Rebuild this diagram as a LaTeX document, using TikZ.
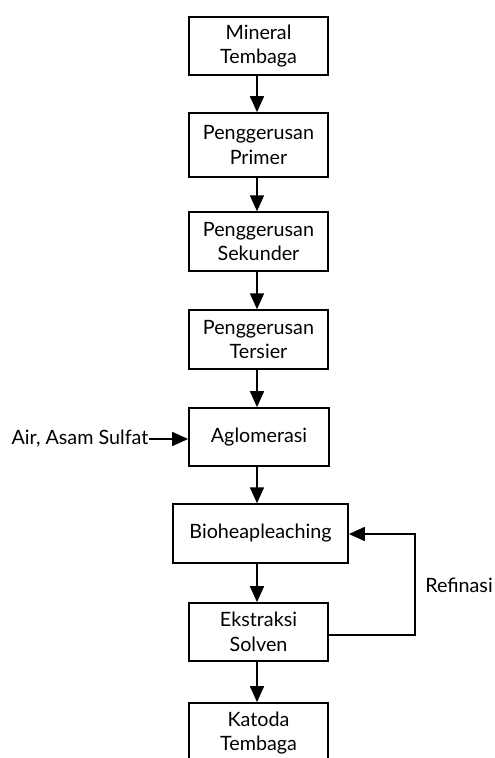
\documentclass[tikz,border=0pt]{standalone}
\usepackage{fontspec}
\setmainfont{Lato}
\usetikzlibrary{arrows.meta}
\begin{document}
\begin{tikzpicture}[x=0.75pt,y=-0.75pt,
  box/.style={draw,line width=1.3pt,minimum width=104.25pt,minimum height=44pt,align=center,inner sep=0pt,font=\fontsize{14.8}{18.6}\selectfont},
  arr/.style={line width=1.3pt,-{Triangle[length=12pt,width=10.5pt]}},
  lbl/.style={font=\fontsize{14.8}{18.6}\selectfont,inner sep=0pt}]
\useasboundingbox (0,0) rectangle (494,758);
\node[box] (m) at (258.5,46) {Mineral\\Tembaga};
\node[box,minimum height=48pt] (p) at (258.5,145) {Penggerusan\\Primer};
\node[box] (s) at (258.5,241.5) {Penggerusan\\Sekunder};
\node[box] (t) at (258.5,339.5) {Penggerusan\\Tersier};
\node[box,minimum width=105pt,minimum height=43.5pt] (a) at (259,437) {Aglomerasi};
\node[box,minimum width=131.25pt] (b) at (260.5,533.5) {Bioheapleaching};
\node[box,minimum height=43.5pt] (e) at (258.5,632) {Ekstraksi\\Solven};
\node[box,minimum height=45pt] (k) at (258.5,733) {Katoda\\Tembaga};
\node[lbl] (air) at (80,439) {Air, Asam Sulfat};
\node[lbl] (ref) at (459,585) {Refinasi};
\coordinate (c1) at (415,635);
\coordinate (c2) at (415,534);
\draw[arr] (m.south -| 257,0) -- (p.north -| 257,0);
\draw[arr] (p.south -| 257,0) -- (s.north -| 257,0);
\draw[arr] (s.south -| 257,0) -- (t.north -| 257,0);
\draw[arr] (t.south -| 257,0) -- (a.north -| 257,0);
\draw[arr] (a.south -| 257,0) -- (b.north -| 257,0);
\draw[arr] (b.south -| 257,0) -- (e.north -| 257,0);
\draw[arr] (e.south -| 257,0) -- (k.north -| 257,0);
\draw[arr] (air.east) -- (a.west |- air.east);
\draw[arr] (e.east |- c1) -- (c1) -- (c2) -- (b.east |- c2);
\end{tikzpicture}
\end{document}
